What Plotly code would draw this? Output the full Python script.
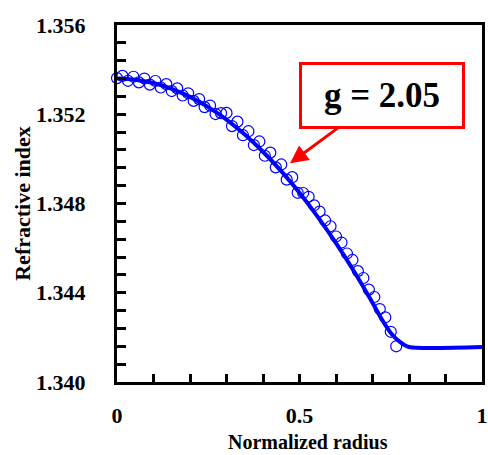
import plotly.graph_objects as go

# Fitted profile (line)
fit_r = [0.00, 0.05, 0.10, 0.15, 0.20, 0.25, 0.30, 0.35, 0.40, 0.45, 0.50,
         0.55, 0.60, 0.65, 0.70, 0.725, 0.75, 0.775, 0.80, 1.00]
fit_n = [1.35360, 1.35355, 1.35340, 1.35314, 1.35278, 1.35232, 1.35176, 1.35109,
         1.35032, 1.34945, 1.34848, 1.34740, 1.34622, 1.34494, 1.34355, 1.34282,
         1.34220, 1.34180, 1.34157, 1.34157]

# Measured profile (open circles)
meas_r = [0.000, 0.015, 0.030, 0.045, 0.060, 0.075, 0.090, 0.105, 0.120, 0.135,
          0.150, 0.165, 0.180, 0.195, 0.210, 0.225, 0.240, 0.255, 0.270, 0.285,
          0.300, 0.315, 0.330, 0.345, 0.360, 0.375, 0.390, 0.405, 0.420, 0.435,
          0.450, 0.465, 0.480, 0.495, 0.510, 0.525, 0.540, 0.555, 0.570, 0.585,
          0.600, 0.615, 0.630, 0.645, 0.660, 0.675, 0.690, 0.705, 0.720, 0.735,
          0.750, 0.765]
meas_n = [1.35362, 1.35372, 1.35350, 1.35368, 1.35343, 1.35360, 1.35333, 1.35349,
          1.35320, 1.35335, 1.35304, 1.35316, 1.35284, 1.35294, 1.35260, 1.35268,
          1.35232, 1.35239, 1.35201, 1.35205, 1.35206, 1.35147, 1.35167, 1.35106,
          1.35124, 1.35062, 1.35078, 1.35014, 1.35028, 1.34962, 1.34975, 1.34907,
          1.34918, 1.34848, 1.34847, 1.34830, 1.34792, 1.34764, 1.34724, 1.34698,
          1.34652, 1.34625, 1.34576, 1.34547, 1.34497, 1.34466, 1.34414, 1.34381,
          1.34327, 1.34290, 1.34225, 1.34160]

x_ticks = [0, 0.5, 1]
x_ticktext = ["0", "0.5", "1"]
y_ticks = [1.340, 1.344, 1.348, 1.352, 1.356]
y_ticktext = ["1.340", "1.344", "1.348", "1.352", "1.356"]

FONT = "Liberation Serif"
BLUE = "#0000FF"

fig = go.Figure()
fig.add_trace(go.Scatter(x=meas_r, y=meas_n, mode="markers",
                         marker=dict(symbol="circle-open", size=11,
                                     color=BLUE, line=dict(width=1.2, color=BLUE)),
                         cliponaxis=False, showlegend=False))
fig.add_trace(go.Scatter(x=fit_r, y=fit_n, mode="lines",
                         line=dict(color=BLUE, width=4, shape="spline", smoothing=0.6),
                         cliponaxis=False, showlegend=False))

fig.update_layout(
    width=488, height=455,
    margin=dict(l=117, r=6, t=25, b=73),
    paper_bgcolor="white", plot_bgcolor="white",
    font=dict(family=FONT, color="black"),
    xaxis=dict(range=[0, 1], tickvals=x_ticks, ticktext=x_ticktext,
               automargin=False,
               showgrid=False, zeroline=False, showline=True, mirror=True,
               linecolor="black", linewidth=3,
               ticks="inside", ticklen=8, tickwidth=3, tickcolor="black",
               minor=dict(dtick=0.1, tick0=0, ticks="inside", ticklen=8,
                          tickwidth=3, tickcolor="black"),
               tickfont=dict(family=FONT, size=22, weight="bold"),
               ticklabelstandoff=12),
    yaxis=dict(range=[1.340, 1.356], tickvals=y_ticks, ticktext=y_ticktext,
               automargin=False,
               showgrid=False, zeroline=False, showline=True, mirror=True,
               linecolor="black", linewidth=3,
               ticks="inside", ticklen=9, tickwidth=3, tickcolor="black",
               minor=dict(dtick=0.0008, tick0=1.340, ticks="inside", ticklen=9,
                          tickwidth=3, tickcolor="black"),
               tickfont=dict(family=FONT, size=22, weight="bold"),
               ticklabelstandoff=24,
               title=dict(text="<b>Refractive index</b>", standoff=0,
                          font=dict(family=FONT, size=22))),
)

# x-axis title placed just below the tick labels
fig.add_annotation(x=0.523, y=-0.2017, xref="paper", yref="paper",
                   xanchor="center", yanchor="bottom", showarrow=False,
                   borderpad=0,
                   text="<b>Normalized radius</b>",
                   font=dict(family=FONT, size=20, color="black"))

fig.add_annotation(x=0.474, y=1.3498, xref="x", yref="y",
                   text="<b>g = 2.05</b>", showarrow=True,
                   ax=92, ay=-68, axref="pixel", ayref="pixel",
                   arrowcolor="red", arrowwidth=3, arrowhead=2, arrowsize=1.2,
                   bordercolor="red", borderwidth=3, bgcolor="white",
                   width=158, height=59,
                   font=dict(family=FONT, size=35, color="black"))

fig.write_html("out.html")
